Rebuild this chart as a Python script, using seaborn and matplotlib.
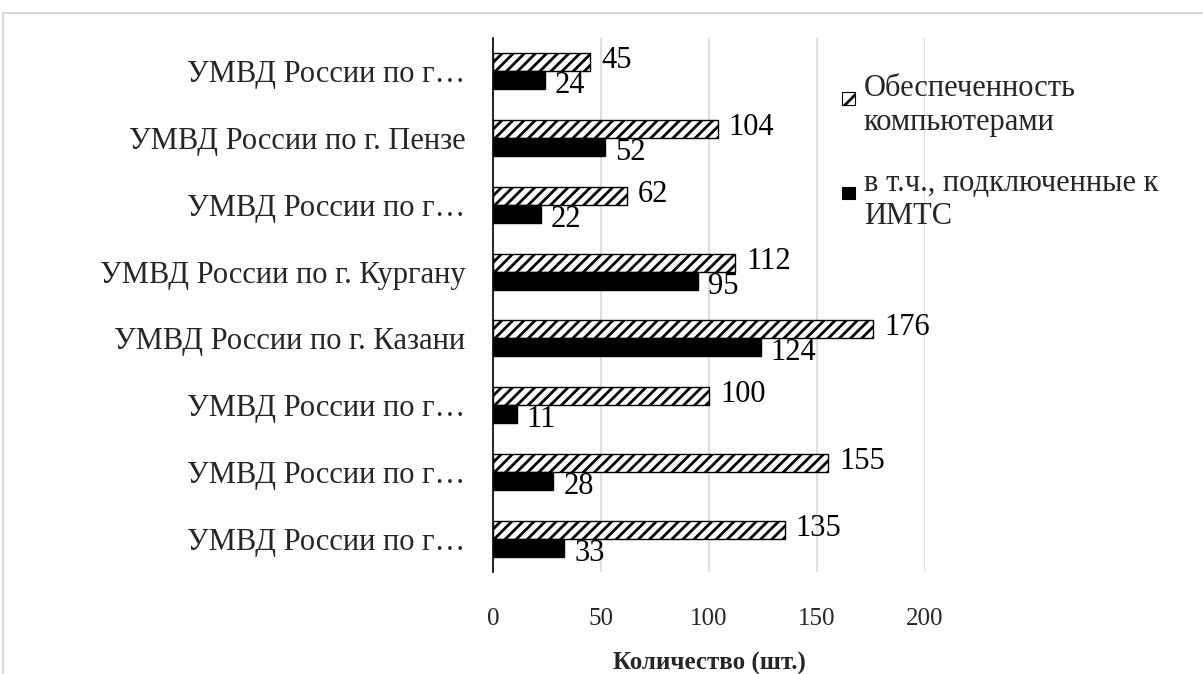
import matplotlib
matplotlib.use("Agg")
import matplotlib.pyplot as plt
import seaborn as sns
import pandas as pd
from matplotlib.patches import Rectangle, Patch
from matplotlib.legend_handler import HandlerBase

categories = [
    "УМВД России по г…",
    "УМВД России по г. Пензе",
    "УМВД России по г…",
    "УМВД России по г. Кургану",
    "УМВД России по г. Казани",
    "УМВД России по г…",
    "УМВД России по г…",
    "УМВД России по г…",
]
series_names = ["Обеспеченность\nкомпьютерами", "в т.ч., подключенные к\nИМТС"]
computers = [45, 104, 62, 112, 176, 100, 155, 135]
connected = [24, 52, 22, 95, 124, 11, 28, 33]
xticks = [0, 50, 100, 150, 200]

sns.set_theme(style="white")
plt.rcParams['font.family'] = ['Liberation Serif', 'DejaVu Serif']
plt.rcParams['hatch.linewidth'] = 2.0

ids = [f"c{i}" for i in range(len(categories))]
df = pd.DataFrame({
    "cid": ids * 2,
    "val": computers + connected,
    "series": [series_names[0]] * len(ids) + [series_names[1]] * len(ids),
})

fig = plt.figure(figsize=(12.03, 6.74), dpi=100)
fig.patches.append(Rectangle((3/1203, -0.2), 1.2, 1.2 - 13/674, transform=fig.transFigure,
                             fill=False, edgecolor='#d9d9d9', linewidth=1.5))
ax = fig.add_axes([493/1203, 1 - 572/674, (925 - 493)/1203, (572 - 38)/674])

sns.barplot(data=df, y="cid", x="val", hue="series", order=ids, hue_order=series_names,
            orient="h", width=0.54, palette=["white", "black"], edgecolor="black",
            linewidth=1.0, dodge=True, ax=ax, legend=False, zorder=3)

n = len(ids)
HATCH = "///"
for p in ax.patches[:n]:
    p.set_hatch(HATCH)
    p.set_edgecolor("black")
for p in ax.patches[n:2*n]:
    p.set_edgecolor("black")

for p, v in zip(ax.patches[:n], computers):
    y = p.get_y() + p.get_height() / 2
    ax.annotate(str(v), (v, y), xytext=(8, 1), textcoords="offset points",
                va="center", ha="left", fontsize=22, color="black")
for p, v in zip(ax.patches[n:2*n], connected):
    y = p.get_y() + p.get_height() / 2
    ax.annotate(str(v), (v, y), xytext=(7, -4), textcoords="offset points",
                va="center", ha="left", fontsize=22, color="black")

ax.set_xlim(0, 200)
ax.set_ylim(n - 0.5, -0.5)
ax.set_xticks(xticks)
ax.set_xticklabels([str(t) for t in xticks], fontsize=18)
ax.set_yticks(range(n))
ax.set_yticklabels(categories, fontsize=22)
ax.tick_params(axis='x', length=0, pad=26)
ax.tick_params(axis='y', length=0, pad=20)
ax.xaxis.grid(True, color='#d9d9d9', linewidth=1.2, zorder=0)
ax.set_axisbelow(True)
for s in ["top", "right", "bottom"]:
    ax.spines[s].set_visible(False)
ax.spines["left"].set_color("black")
ax.spines["left"].set_linewidth(1.2)
ax.spines["left"].set_zorder(5)
ax.set_ylabel("")
ax.set_xlabel("Количество (шт.)", fontsize=18, fontweight="bold", labelpad=16)


class TopSquare(HandlerBase):
    def create_artists(self, legend, orig_handle, xdescent, ydescent, width, height,
                       fontsize, trans):
        s = 0.42 * fontsize
        y = -ydescent + height - 0.62 * fontsize - s / 2
        r = Rectangle((-xdescent + width - s, y), s, s,
                      facecolor=orig_handle.get_facecolor(), edgecolor="black",
                      hatch=orig_handle.get_hatch(), linewidth=0.8, transform=trans)
        return [r]


handles = [Patch(facecolor="white", edgecolor="black", hatch="//"),
           Patch(facecolor="black", edgecolor="black")]
fig.legend(handles, series_names, loc="upper left", bbox_to_anchor=(824/1203, 1 - 59/674),
           frameon=False, fontsize=22, handlelength=0.5, handleheight=2.4,
           handletextpad=0.3, labelspacing=1.05, borderpad=0,
           handler_map={Patch: TopSquare()})

fig.savefig("out.png", dpi=100)
